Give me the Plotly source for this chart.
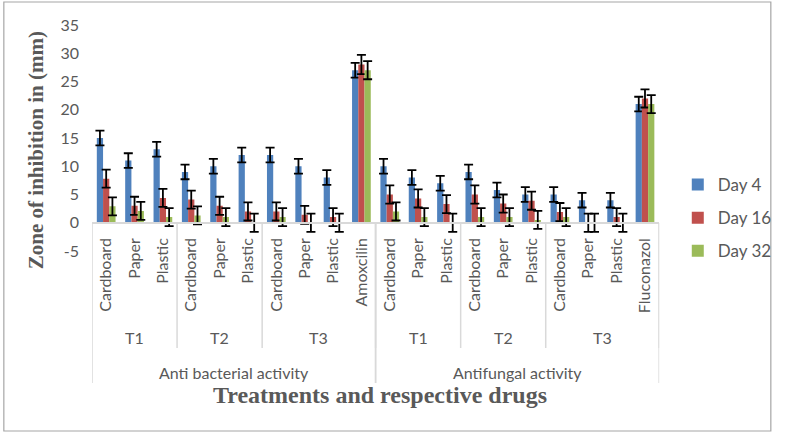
import plotly.graph_objects as go

# ---------------- data ----------------
subcats = ["Cardboard", "Paper", "Plastic"] * 3 + ["Amoxcilin"] + ["Cardboard", "Paper", "Plastic"] * 3 + ["Fluconazol"]
tgroups = ["T1"] * 3 + ["T2"] * 3 + ["T3"] * 4 + ["T1"] * 3 + ["T2"] * 3 + ["T3"] * 4
activities = ["Anti bacterial activity"] * 10 + ["Antifungal activity"] * 10

series_names = ["Day 4", "Day 16", "Day 32"]
day4 = [15, 11, 13, 9, 10, 12, 12, 10, 8, 27, 10, 8, 7, 9, 5.8, 5, 5, 4, 4, 21]
day16 = [7.8, 3, 4.4, 4.1, 3, 2, 2, 1.4, 1, 28, 5, 4.3, 3.3, 5, 3.4, 3.9, 1.9, 0, 1, 22]
day32 = [2.9, 2.1, 1, 1.3, 1, 0, 1, 0, 0, 27, 2, 1, 0, 1, 1, 0.5, 1, 0, 0, 21]
err4 = [1.3] * 20
err16 = [1.6] * 9 + [1.7] + [1.6] * 10
err32 = [1.6] * 20

y_ticks = [-5, 0, 5, 10, 15, 20, 25, 30, 35]
y_tick_text = ["-5", "0", "5", "10", "15", "20", "25", "30", "35"]

colors = ["#4F81BD", "#C0504D", "#9BBB59"]

# ---------------- layout helpers ----------------
W, H = 787, 434
ML, MR, MT, MB = 92, 10, 25, 183
PLOT_RIGHT = 671
PW, PH = W - ML - MR, H - MT - MB
XDOM = (PLOT_RIGHT - ML) / PW


def px_x(p):
    return (p - ML) / PW


def px_y(p):
    return (H - MB - p) / PH


FONT = "Lato, Carlito, Calibri, sans-serif"
SERIF = "Liberation Serif, Times New Roman, serif"
GREY = "#595959"
LINE = "#D9D9D9"

xs = list(range(len(subcats)))

fig = go.Figure()
for name, vals, errs, col in zip(series_names, [day4, day16, day32], [err4, err16, err32], colors):
    fig.add_trace(go.Bar(
        x=xs, y=vals, name=name, legendgroup=name,
        marker=dict(color=col, line=dict(width=0)),
        error_y=dict(type="data", array=errs, visible=True, color="black", thickness=1.8, width=4.5),
        cliponaxis=False,
    ))

# group spans derived from the label lists
t_spans = []
start = 0
for i in range(1, len(tgroups) + 1):
    if i == len(tgroups) or tgroups[i] != tgroups[start] or activities[i] != activities[start]:
        t_spans.append((start, i - 1, tgroups[start]))
        start = i
a_spans = []
start = 0
for i in range(1, len(activities) + 1):
    if i == len(activities) or activities[i] != activities[start]:
        a_spans.append((start, i - 1, activities[start]))
        start = i

shapes = []
annotations = []
y_axis0 = px_y(223)
y_trow = px_y(348)
y_arow = px_y(383)

for s, e, lab in t_spans:
    annotations.append(dict(x=(s + e) / 2, y=px_y(337), xref="x", yref="paper", text=lab,
                            showarrow=False, font=dict(family=FONT, size=16, color=GREY),
                            xanchor="center", yanchor="middle"))
    shapes.append(dict(type="line", xref="x", yref="paper", x0=e + 0.5, x1=e + 0.5,
                       y0=y_axis0, y1=y_trow, line=dict(color=LINE, width=1.5)))
for s, e, lab in a_spans:
    annotations.append(dict(x=(s + e) / 2, y=px_y(372), xref="x", yref="paper", text=lab,
                            showarrow=False, font=dict(family=FONT, size=16, color=GREY),
                            xanchor="center", yanchor="middle"))
    for xb in (s - 0.5, e + 0.5):
        shapes.append(dict(type="line", xref="x", yref="paper", x0=xb, x1=xb,
                           y0=y_axis0, y1=y_arow, line=dict(color=LINE, width=1.5)))

# outer border
shapes.append(dict(type="rect", xref="paper", yref="paper", x0=px_x(2), x1=px_x(785),
                   y0=px_y(431), y1=px_y(2), line=dict(color="#A6A6A6", width=1.2)))

annotations.append(dict(x=px_x(386), y=px_y(395), xref="paper", yref="paper",
                        text="<b>Treatments and respective drugs</b>", showarrow=False,
                        font=dict(family=SERIF, size=24, color=GREY),
                        xanchor="center", yanchor="middle"))
annotations.append(dict(x=px_x(35), y=px_y(150), xref="paper", yref="paper",
                        text="<b>Zone of inhibition in (mm)</b>", showarrow=False, textangle=-90,
                        font=dict(family=SERIF, size=21, color=GREY),
                        xanchor="center", yanchor="middle"))

fig.update_layout(
    width=W, height=H,
    margin=dict(l=ML, r=MR, t=MT, b=MB),
    plot_bgcolor="white", paper_bgcolor="white",
    barmode="group", bargap=0.34, bargroupgap=0,
    shapes=shapes, annotations=annotations,
    legend=dict(x=px_x(690), y=px_y(167), xanchor="left", yanchor="top",
                font=dict(family=FONT, size=17, color=GREY),
                tracegroupgap=8, itemwidth=30, bgcolor="rgba(0,0,0,0)"),
    xaxis=dict(domain=[0, XDOM], range=[-0.5, len(subcats) - 0.5], tickmode="array", tickvals=xs,
               ticktext=subcats, tickangle=-90, anchor="free", position=y_axis0, showline=True,
               linecolor=LINE, linewidth=1.5, showgrid=False, zeroline=False, ticks="",
               tickfont=dict(family=FONT, size=16, color=GREY), ticklabelstandoff=8),
    yaxis=dict(range=[-5, 35], tickmode="array", tickvals=y_ticks, ticktext=y_tick_text,
               showgrid=False, zeroline=False, showline=False, ticks="",
               tickfont=dict(family=FONT, size=16, color=GREY), ticklabelstandoff=12),
)

fig.write_html("out.html", config={"displayModeBar": False},
               post_script="document.body.style.margin='0';document.body.style.padding='0';")
